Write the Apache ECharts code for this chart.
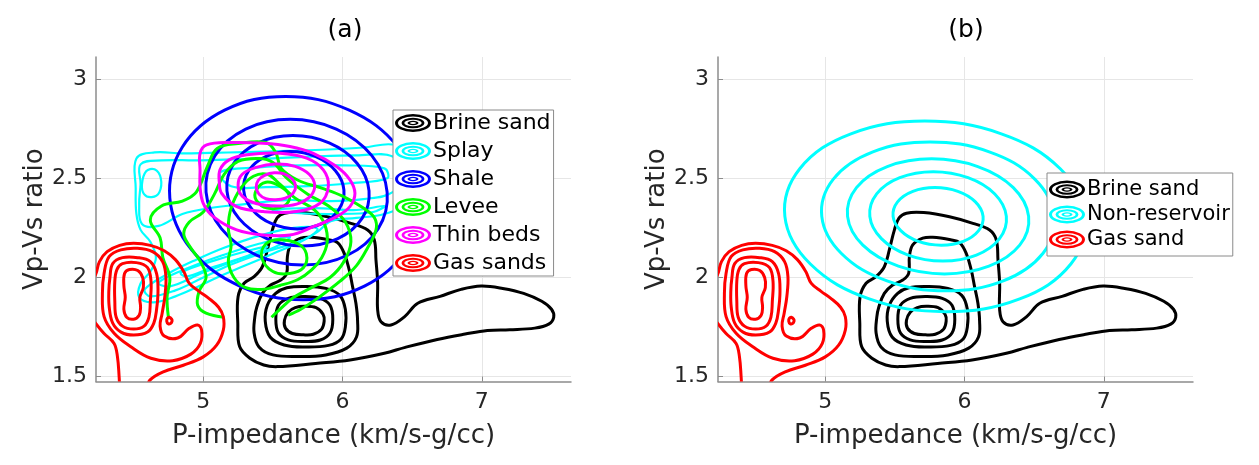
<!DOCTYPE html>
<html><head><meta charset="utf-8">
<script src="https://cdn.jsdelivr.net/npm/echarts@6/dist/echarts.min.js"></script>
<style>html,body{margin:0;padding:0;background:#fff}#c{width:1259px;height:465px}</style>
</head><body><div id="c"></div>
<script>
// ---- axes / ticks ----
const xTickValues = [5, 6, 7];
const yTickValues = [1.5, 2, 2.5, 3];
const xRange = [4.23, 7.64];
const yRange = [1.476, 3.111];
const panelTitles = ['(a)', '(b)'];
const xAxisName = 'P-impedance (km/s-g/cc)';
const yAxisName = 'Vp-Vs ratio';
const legendA = ['Brine sand', 'Splay', 'Shale', 'Levee', 'Thin beds', 'Gas sands'];
const legendB = ['Brine sand', 'Non-reservoir', 'Gas sand'];

// ---- contour lines (each ring = list of [P-impedance, Vp/Vs]; closed if last == first) ----
const brineSand = [
  [[5.583,2.324],[5.707,2.327],[5.892,2.306],[6.060,2.273],[6.180,2.239],[6.228,2.189],[6.240,2.088],[6.252,1.971],[6.252,1.836],[6.276,1.777],[6.348,1.761],[6.444,1.802],[6.540,1.870],[6.70,1.905],[6.85,1.94],[6.995,1.957],[7.15,1.945],[7.30,1.92],[7.43,1.88],[7.50,1.84],[7.516,1.80],[7.48,1.765],[7.38,1.745],[7.20,1.737],[7.04,1.733],[6.88,1.715],[6.68,1.688],[6.45,1.648],[6.30,1.618],[6.054,1.584],[5.806,1.567],[5.533,1.551],[5.434,1.559],[5.335,1.593],[5.261,1.652],[5.248,1.769],[5.250,1.903],[5.293,1.971],[5.365,2.004],[5.424,2.054],[5.460,2.139],[5.496,2.239],[5.530,2.300],[5.583,2.324]],
  [[5.628,2.164],[5.70,2.198],[5.772,2.203],[5.90,2.19],[5.964,2.176],[6.012,2.122],[6.048,2.038],[6.072,1.954],[6.096,1.870],[6.108,1.78],[6.10,1.70],[6.03,1.644],[5.88,1.610],[5.70,1.602],[5.50,1.610],[5.40,1.650],[5.365,1.72],[5.37,1.80],[5.384,1.85],[5.424,1.920],[5.484,1.962],[5.556,1.987],[5.599,2.021],[5.604,2.105],[5.628,2.164]],
  [[5.73,1.955],[5.88,1.945],[5.98,1.91],[6.02,1.84],[6.02,1.75],[5.99,1.69],[5.90,1.658],[5.73,1.650],[5.58,1.66],[5.48,1.70],[5.445,1.78],[5.46,1.86],[5.52,1.92],[5.60,1.948],[5.73,1.955]],
  [[5.725,1.904],[5.84,1.895],[5.91,1.86],[5.93,1.79],[5.91,1.72],[5.84,1.685],[5.725,1.678],[5.61,1.686],[5.54,1.72],[5.521,1.79],[5.54,1.86],[5.61,1.895],[5.725,1.904]],
  [[5.725,1.855],[5.81,1.848],[5.86,1.815],[5.868,1.78],[5.85,1.74],[5.79,1.714],[5.72,1.711],[5.64,1.718],[5.59,1.745],[5.583,1.785],[5.61,1.825],[5.66,1.848],[5.725,1.855]]
];

const gasSand = [
  [[4.20,1.80],[4.228,1.769],[4.288,1.718],[4.36,1.668],[4.384,1.601],[4.396,1.50],[4.40,1.44]],
  [[4.60,1.44],[4.617,1.483],[4.713,1.525],[4.857,1.558],[5.00,1.60],[5.096,1.659],[5.144,1.735],[5.144,1.802],[5.11,1.85],[5.04,1.895],[4.97,1.93],[4.90,1.97],[4.86,2.03],[4.80,2.09],[4.72,2.135],[4.62,2.162],[4.50,2.172],[4.40,2.162],[4.31,2.13],[4.255,2.08],[4.23,2.02],[4.20,1.98]],
  [[4.288,2.021],[4.324,2.105],[4.408,2.139],[4.528,2.147],[4.636,2.130],[4.708,2.080],[4.732,2.004],[4.724,1.903],[4.705,1.82],[4.69,1.755],[4.72,1.705],[4.816,1.695],[4.899,1.744],[4.959,1.761],[4.988,1.735],[4.979,1.668],[4.911,1.614],[4.78,1.581],[4.624,1.593],[4.48,1.651],[4.36,1.719],[4.288,1.803],[4.276,1.92],[4.288,2.021]],
  [[4.33,2.00],[4.35,2.07],[4.42,2.10],[4.53,2.10],[4.62,2.08],[4.665,2.02],[4.675,1.93],[4.665,1.84],[4.645,1.77],[4.60,1.725],[4.50,1.71],[4.41,1.725],[4.35,1.77],[4.325,1.85],[4.322,1.93],[4.33,2.00]],
  [[4.42,2.07],[4.52,2.075],[4.60,2.05],[4.625,1.98],[4.62,1.88],[4.61,1.80],[4.575,1.755],[4.50,1.74],[4.42,1.755],[4.375,1.80],[4.365,1.88],[4.365,1.98],[4.38,2.04],[4.42,2.07]],
  [[4.47,2.04],[4.53,2.035],[4.565,2.00],[4.57,1.95],[4.545,1.90],[4.55,1.85],[4.54,1.81],[4.50,1.79],[4.45,1.80],[4.43,1.84],[4.44,1.90],[4.43,1.96],[4.435,2.02],[4.47,2.04]],
  [[4.756,1.800],[4.773,1.79],[4.776,1.78],[4.765,1.768],[4.748,1.767],[4.738,1.78],[4.742,1.794],[4.756,1.800]]
];

const nonReservoir = [
  [[6.87,2.308],[6.687,2.548],[6.264,2.724],[5.714,2.788],[5.184,2.724],[4.817,2.548],[4.71,2.308],[4.893,2.068],[5.316,1.892],[5.866,1.828],[6.396,1.892],[6.763,2.068],[6.87,2.308]],
  [[6.645,2.308],[6.504,2.496],[6.177,2.633],[5.752,2.683],[5.342,2.633],[5.058,2.496],[4.975,2.308],[5.116,2.121],[5.443,1.983],[5.868,1.933],[6.278,1.983],[6.562,2.121],[6.645,2.308]],
  [[6.46,2.308],[6.35,2.453],[6.095,2.559],[5.764,2.598],[5.445,2.559],[5.224,2.453],[5.16,2.308],[5.27,2.163],[5.525,2.057],[5.856,2.018],[6.175,2.057],[6.396,2.163],[6.46,2.308]],
  [[6.30,2.308],[6.217,2.421],[6.025,2.503],[5.776,2.533],[5.535,2.503],[5.369,2.421],[5.32,2.308],[5.403,2.196],[5.595,2.113],[5.844,2.083],[6.085,2.113],[6.251,2.196],[6.30,2.308]],
  [[6.133,2.308],[6.078,2.381],[5.952,2.434],[5.787,2.453],[5.629,2.434],[5.519,2.381],[5.487,2.308],[5.542,2.236],[5.668,2.182],[5.833,2.163],[5.991,2.182],[6.101,2.236],[6.133,2.308]]
];

const shale = [
  [[6.55,2.40],[6.399,2.656],[6.048,2.843],[5.592,2.912],[5.153,2.843],[4.849,2.656],[4.76,2.40],[4.911,2.144],[5.262,1.957],[5.718,1.888],[6.157,1.957],[6.461,2.144],[6.55,2.40]],
  [[6.32,2.43],[6.21,2.614],[5.955,2.748],[5.624,2.797],[5.305,2.748],[5.084,2.614],[5.02,2.43],[5.13,2.246],[5.385,2.112],[5.716,2.063],[6.035,2.112],[6.256,2.246],[6.32,2.43]],
  [[6.19,2.437],[6.104,2.576],[5.904,2.678],[5.644,2.715],[5.394,2.678],[5.22,2.576],[5.17,2.437],[5.256,2.298],[5.456,2.196],[5.716,2.159],[5.966,2.196],[6.14,2.298],[6.19,2.437]],
  [[6.01,2.44],[5.949,2.538],[5.808,2.609],[5.625,2.635],[5.448,2.609],[5.326,2.538],[5.29,2.44],[5.351,2.343],[5.492,2.271],[5.675,2.245],[5.852,2.271],[5.974,2.343],[6.01,2.44]]
];

const thinBeds = [
  [[4.977,2.626],[5.024,2.668],[5.192,2.68],[5.431,2.676],[5.622,2.66],[5.79,2.626],[5.957,2.559],[6.053,2.492],[6.089,2.424],[6.053,2.357],[5.957,2.307],[5.79,2.256],[5.622,2.214],[5.431,2.214],[5.24,2.24],[5.072,2.307],[5.0,2.374],[4.977,2.458],[4.977,2.542],[4.977,2.626]],
  [[5.12,2.542],[5.18,2.59],[5.311,2.618],[5.551,2.626],[5.742,2.601],[5.862,2.542],[5.898,2.458],[5.838,2.374],[5.67,2.332],[5.431,2.332],[5.24,2.357],[5.132,2.424],[5.115,2.48],[5.12,2.542]],
  [[5.80,2.465],[5.76,2.52],[5.66,2.56],[5.52,2.572],[5.38,2.555],[5.28,2.52],[5.25,2.465],[5.28,2.41],[5.38,2.373],[5.53,2.36],[5.67,2.37],[5.77,2.41],[5.80,2.465]],
  [[5.663,2.46],[5.64,2.495],[5.58,2.522],[5.51,2.528],[5.44,2.515],[5.395,2.49],[5.38,2.455],[5.40,2.42],[5.45,2.397],[5.52,2.392],[5.59,2.40],[5.645,2.425],[5.663,2.46]]
];

const splay = [
  [[4.52,2.60],[4.65,2.63],[4.85,2.625],[5.05,2.628],[5.30,2.632],[5.60,2.638],[5.90,2.645],[6.15,2.655],[6.36,2.67],[6.50,2.62],[6.52,2.48],[6.45,2.37],[6.30,2.32],[6.10,2.30],[5.92,2.285],[5.82,2.23],[5.70,2.18],[5.50,2.12],[5.30,2.06],[5.10,2.0],[4.95,1.95],[4.80,1.905],[4.64,1.875],[4.54,1.90],[4.55,1.97],[4.62,2.03],[4.66,2.10],[4.62,2.18],[4.55,2.24],[4.52,2.32],[4.515,2.45],[4.52,2.60]],
  [[4.55,2.57],[4.70,2.59],[4.95,2.59],[5.2,2.595],[5.5,2.60],[5.8,2.61],[6.1,2.615],[6.36,2.61],[6.42,2.52],[6.36,2.43],[6.15,2.395],[5.9,2.385],[5.6,2.39],[5.3,2.37],[5.05,2.35],[4.85,2.32],[4.68,2.26],[4.56,2.27],[4.54,2.37],[4.55,2.47],[4.55,2.57]],
  [[4.56,2.47],[4.59,2.535],[4.65,2.545],[4.695,2.50],[4.685,2.43],[4.63,2.405],[4.575,2.42],[4.56,2.47]],
  [[5.12,2.53],[5.4,2.555],[5.7,2.565],[6.0,2.565],[6.3,2.55],[6.32,2.50],[6.05,2.475],[5.75,2.46],[5.45,2.455],[5.2,2.46],[5.12,2.53]],
  [[4.58,1.94],[4.75,2.02],[4.95,2.09],[5.15,2.15],[5.40,2.21],[5.65,2.25],[5.82,2.245],[5.72,2.19],[5.45,2.13],[5.20,2.065],[5.00,2.00],[4.80,1.935],[4.62,1.905],[4.58,1.94]],
  [[4.68,1.975],[4.90,2.05],[5.15,2.115],[5.40,2.17],[5.62,2.205],[5.52,2.155],[5.25,2.09],[5.00,2.025],[4.76,1.955],[4.68,1.975]],
  [[4.84,2.025],[5.10,2.09],[5.35,2.14],[5.46,2.155],[5.32,2.11],[5.06,2.05],[4.88,2.005],[4.84,2.025]],
  [[5.50,2.34],[5.80,2.35],[6.10,2.34],[6.30,2.36],[6.22,2.33],[5.95,2.32],[5.65,2.325],[5.50,2.34]]
];

const levee = [
  [[4.75,1.80],[4.74,1.90],[4.76,2.00],[4.71,2.10],[4.69,2.20],[4.62,2.29],[4.70,2.36],[4.85,2.385],[4.95,2.43],[5.03,2.56],[5.10,2.65],[5.25,2.675],[5.45,2.68],[5.52,2.63],[5.56,2.55],[5.68,2.49],[5.85,2.45],[6.00,2.41],[6.15,2.35],[6.23,2.30],[6.24,2.24],[6.18,2.15],[6.10,2.06],[5.98,1.98],[5.83,1.90],[5.70,1.84],[5.61,1.81]],
  [[5.15,1.80],[5.02,1.82],[4.96,1.86],[4.97,1.93],[5.02,2.00],[4.98,2.08],[4.91,2.15],[4.86,2.22],[4.90,2.28],[5.00,2.33],[5.08,2.42],[5.15,2.52],[5.25,2.585],[5.40,2.60],[5.50,2.58],[5.60,2.50],[5.75,2.42],[5.90,2.36],[6.02,2.28],[6.06,2.18],[6.01,2.08],[5.91,2.00],[5.78,1.95],[5.65,1.90],[5.55,1.84],[5.49,1.80]],
  [[5.30,1.95],[5.22,2.00],[5.18,2.08],[5.20,2.16],[5.18,2.25],[5.20,2.35],[5.27,2.45],[5.36,2.51],[5.46,2.52],[5.55,2.47],[5.66,2.40],[5.80,2.34],[5.87,2.27],[5.89,2.18],[5.85,2.10],[5.78,2.04],[5.68,1.99],[5.55,1.96],[5.42,1.94],[5.30,1.95]],
  [[5.42,2.10],[5.45,2.17],[5.55,2.19],[5.68,2.17],[5.74,2.12],[5.72,2.05],[5.62,2.02],[5.50,2.03],[5.42,2.10]],
  [[5.38,2.44],[5.45,2.48],[5.55,2.46],[5.62,2.41],[5.58,2.36],[5.46,2.35],[5.38,2.39],[5.38,2.44]]
];

// ---- build ----
const FONT = 'DejaVu Sans';
const ringIcon = 'path://M0,9 A18,9 0 1,1 36,9 A18,9 0 1,1 0,9 Z M3,9 A15,6.4 0 1,0 33,9 A15,6.4 0 1,0 3,9 Z ' +
  'M6.5,9 A11.5,5.2 0 1,1 29.5,9 A11.5,5.2 0 1,1 6.5,9 Z M9.3,9 A8.7,3.2 0 1,0 26.7,9 A8.7,3.2 0 1,0 9.3,9 Z ' +
  'M12.5,9 A5.5,2.2 0 1,1 23.5,9 A5.5,2.2 0 1,1 12.5,9 Z M15,9 A3,0.9 0 1,0 21,9 A3,0.9 0 1,0 15,9 Z';

function near(list, v) { return list.some(t => Math.abs(t - v) < 1e-6); }

function xAxisFor(i) {
  return {
    type: 'value', gridIndex: i, min: xRange[0], max: xRange[1],
    splitNumber: 3, minInterval: 1, maxInterval: 1,
    axisLine: { show: true, onZero: false, lineStyle: { color: '#8c8c8c', width: 1.5 } },
    axisTick: { show: true, inside: true, length: 5, lineStyle: { color: '#8c8c8c' } },
    axisLabel: { showMinLabel: false, showMaxLabel: false, margin: 10, color: '#262626', fontSize: 22, fontFamily: FONT,
      formatter: v => near(xTickValues, v) ? String(v) : '' },
    splitLine: { show: true, showMinLine: false, showMaxLine: false, lineStyle: { color: '#e6e6e6', width: 1 } },
    name: xAxisName, nameLocation: 'middle', nameGap: 42,
    nameTextStyle: { fontSize: 26, color: '#262626', fontFamily: FONT }
  };
}
function yAxisFor(i) {
  return {
    type: 'value', gridIndex: i, min: yRange[0], max: yRange[1],
    splitNumber: 3, minInterval: 0.5, maxInterval: 0.5,
    axisLine: { show: true, onZero: false, lineStyle: { color: '#8c8c8c', width: 1.5 } },
    axisTick: { show: true, inside: true, length: 5, lineStyle: { color: '#8c8c8c' } },
    axisLabel: { showMinLabel: false, showMaxLabel: false, margin: 9, color: '#262626', fontSize: 22, fontFamily: FONT,
      formatter: v => near(yTickValues, v) ? String(v) : '' },
    splitLine: { show: true, showMinLine: false, showMaxLine: false, lineStyle: { color: '#e6e6e6', width: 1 } },
    name: yAxisName, nameLocation: 'middle', nameGap: 46,
    nameTextStyle: { fontSize: 26, color: '#262626', fontFamily: FONT }
  };
}
function isClosed(r) {
  const a = r[0], b = r[r.length - 1];
  return r.length > 3 && a[0] === b[0] && a[1] === b[1];
}
// one custom series per contour group; each data item is one contour ring
function contour(name, rings, color, grid, width) {
  return {
    type: 'custom', name: name, coordinateSystem: 'cartesian2d',
    xAxisIndex: grid, yAxisIndex: grid,
    data: rings.map((r, i) => [r[0][0], r[0][1], i]),
    encode: { x: 0, y: 1 },
    itemStyle: { color: color },
    silent: true, animation: false,
    renderItem: function (params, api) {
      const ring = rings[api.value(2)];
      const closed = isClosed(ring);
      const pts = (closed ? ring.slice(0, -1) : ring).map(p => api.coord(p));
      const cs = params.coordSys;
      return {
        type: closed ? 'polygon' : 'polyline',
        shape: { points: pts, smooth: 0.38 },
        style: { fill: 'none', stroke: color, lineWidth: width || 3, lineJoin: 'round' },
        clipPath: { type: 'rect', shape: { x: cs.x, y: cs.y, width: cs.width, height: cs.height } }
      };
    }
  };
}
function legendFor(names, left, top, fontSize, gap, pad) {
  return {
    data: names, orient: 'vertical', left: left, top: top,
    icon: ringIcon, itemWidth: 36, itemHeight: 18, itemGap: gap,
    padding: pad, backgroundColor: '#ffffff', borderColor: '#8a8a8a', borderWidth: 1, borderRadius: 0,
    itemStyle: { borderWidth: 0 }, selectedMode: false,
    textStyle: { fontSize: fontSize, color: '#000', fontFamily: FONT, padding: [0, 0, 0, -3] }
  };
}

const option = {
  backgroundColor: '#ffffff',
  animation: false,
  grid: [
    { left: 96, top: 57, width: 475, height: 324.5, containLabel: false, outerBoundsMode: 'none' },
    { left: 718, top: 57, width: 475, height: 324.5, containLabel: false, outerBoundsMode: 'none' }
  ],
  xAxis: [xAxisFor(0), xAxisFor(1)],
  yAxis: [yAxisFor(0), yAxisFor(1)],
  legend: [
    legendFor(legendA, 393, 110, 22, 6, [2, 3, 2, 2]),
    legendFor(legendB, 1047, 173, 21, 4, [6, 3, 6, 2])
  ],
  graphic: [
    { type: 'text', x: 345, y: 30, style: { text: panelTitles[0], fontSize: 25, fontFamily: FONT, fill: '#000', align: 'center', verticalAlign: 'middle' } },
    { type: 'text', x: 966, y: 30, style: { text: panelTitles[1], fontSize: 25, fontFamily: FONT, fill: '#000', align: 'center', verticalAlign: 'middle' } }
  ],
  series: [
    contour('Brine sand', brineSand, '#000000', 0),
    contour('Splay', splay, '#00ffff', 0, 2.2),
    contour('Shale', shale, '#0000ff', 0),
    contour('Levee', levee, '#00ff00', 0),
    contour('Thin beds', thinBeds, '#ff00ff', 0),
    contour('Gas sands', gasSand, '#ff0000', 0),
    contour('Brine sand', brineSand, '#000000', 1),
    contour('Non-reservoir', nonReservoir, '#00ffff', 1),
    contour('Gas sand', gasSand, '#ff0000', 1)
  ]
};
const chart = echarts.init(document.getElementById('c'), null, { renderer: 'canvas' });
chart.setOption(option);
</script>
</body></html>
